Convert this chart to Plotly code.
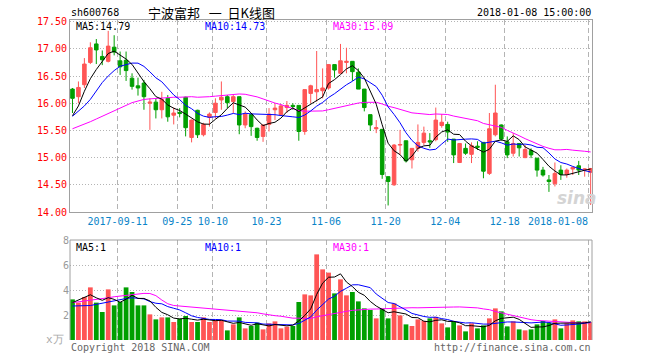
import plotly.graph_objects as go
import pandas as pd

# ---------------- data ----------------
holidays = ["2017-10-02", "2017-10-03", "2017-10-04", "2017-10-05", "2017-10-06", "2018-01-01"]
dates = [d.strftime("%Y-%m-%d") for d in pd.bdate_range("2017-08-30", "2018-01-08")
         if d.strftime("%Y-%m-%d") not in holidays]

open_ = [16.26, 16.12, 16.34, 16.75, 17.09, 16.86, 16.77, 17.03, 16.78, 16.79,
         16.46, 16.32, 16.37, 16.00, 16.02, 15.88, 16.09, 15.78, 15.83, 16.11,
         15.37, 15.87, 15.42, 15.74, 15.83, 16.06, 16.12, 16.03, 16.12, 15.60,
         15.79, 15.54, 15.39, 15.61, 15.88, 15.79, 15.92, 15.96, 15.96, 15.48,
         16.18, 16.21, 16.23, 16.28, 16.71, 16.55, 16.75, 16.77, 16.57, 16.26,
         15.79, 15.53, 15.52, 14.65, 14.50, 15.23, 15.31, 14.96, 15.17, 15.28,
         15.31, 15.33, 15.59, 15.61, 15.34, 14.91, 15.17, 15.06, 15.21, 15.28,
         14.71, 15.42, 15.60, 15.29, 15.08, 15.26, 15.00, 15.13, 14.99, 14.77,
         14.59, 14.52, 14.77, 14.69, 14.79, 14.85, 14.78, 14.73]
high = [16.28, 16.40, 16.83, 17.12, 17.18, 16.97, 17.33, 17.25, 16.95, 16.95,
        16.55, 16.47, 16.43, 16.09, 16.09, 16.21, 16.15, 15.92, 15.91, 16.12,
        15.70, 15.88, 15.64, 15.83, 16.09, 16.40, 16.15, 16.15, 16.12, 15.85,
        15.82, 15.55, 15.61, 15.91, 16.00, 15.98, 16.04, 16.00, 15.96, 16.25,
        16.34, 16.96, 16.64, 16.72, 16.71, 17.09, 17.02, 16.77, 16.64, 16.26,
        15.79, 15.69, 15.52, 14.65, 15.25, 15.51, 15.31, 15.17, 15.61, 15.57,
        15.45, 15.92, 15.80, 15.66, 15.34, 15.26, 15.26, 15.28, 15.30, 15.28,
        15.82, 16.34, 15.61, 15.39, 15.45, 15.26, 15.23, 15.17, 14.99, 14.83,
        14.68, 14.91, 14.86, 14.80, 14.83, 14.94, 14.80, 14.81]
low = [15.82, 16.00, 16.28, 16.72, 16.72, 16.70, 16.75, 16.88, 16.52, 16.41,
       16.25, 16.14, 15.88, 15.51, 15.72, 15.72, 15.66, 15.61, 15.74, 15.39,
       15.28, 15.36, 15.39, 15.57, 15.72, 15.88, 15.91, 15.82, 15.43, 15.54,
       15.40, 15.31, 15.29, 15.48, 15.69, 15.77, 15.82, 15.88, 15.31, 15.42,
       16.00, 16.03, 16.09, 16.25, 16.47, 16.55, 16.55, 16.41, 16.26, 15.85,
       15.49, 15.45, 14.61, 14.12, 14.48, 15.05, 14.91, 14.80, 15.11, 15.23,
       15.18, 15.30, 15.55, 15.29, 14.90, 14.90, 15.05, 14.90, 15.14, 14.62,
       14.68, 15.39, 15.31, 14.99, 15.02, 15.02, 14.99, 14.99, 14.65, 14.65,
       14.37, 14.47, 14.59, 14.63, 14.68, 14.68, 14.65, 14.13]
close = [16.09, 16.29, 16.72, 17.02, 16.98, 16.80, 17.05, 16.94, 16.67, 16.60,
         16.31, 16.28, 16.12, 16.02, 15.88, 16.07, 15.75, 15.82, 15.81, 15.55,
         15.69, 15.42, 15.61, 15.80, 16.00, 16.11, 16.01, 16.12, 15.60, 15.80,
         15.57, 15.37, 15.60, 15.80, 15.91, 15.95, 15.96, 15.94, 15.48, 16.25,
         16.32, 16.25, 16.28, 16.71, 16.61, 16.78, 16.77, 16.58, 16.26, 15.92,
         15.60, 15.55, 14.69, 14.56, 15.23, 15.24, 14.94, 15.17, 15.28, 15.45,
         15.29, 15.69, 15.65, 15.47, 15.05, 15.26, 15.08, 15.22, 15.19, 14.75,
         15.53, 15.82, 15.34, 15.05, 15.26, 15.18, 15.15, 15.05, 14.77, 14.68,
         14.56, 14.71, 14.69, 14.77, 14.82, 14.77, 14.79, 14.80]
volume = [3.25, 2.99, 3.44, 4.21, 2.99, 2.24, 4.05, 2.77, 3.04, 4.21,
          3.84, 2.77, 2.77, 2.05, 1.65, 1.81, 1.81, 1.44, 1.71, 1.92,
          1.44, 1.44, 1.81, 1.44, 1.60, 1.60, 0.77, 1.25, 1.81, 0.93,
          1.12, 1.39, 0.85, 1.33, 1.49, 0.93, 1.07, 1.12, 3.04, 3.65,
          3.57, 6.85, 5.65, 5.39, 3.73, 4.85, 3.57, 3.84, 3.09, 2.53,
          2.40, 1.73, 2.51, 1.73, 2.93, 1.97, 1.25, 1.12, 1.65, 1.52,
          1.73, 1.85, 1.33, 1.01, 1.52, 1.17, 0.69, 1.33, 0.93, 1.17,
          1.73, 2.53, 2.29, 1.09, 1.49, 0.85, 0.77, 0.85, 1.25, 1.52,
          1.39, 1.65, 0.93, 1.33, 1.57, 1.49, 1.49, 1.44]

# leading moving-average values (their windows reach before the first visible day)
ma5_head = [15.77, 15.95, 16.22, 16.45]
ma10_head = [15.76, 15.85, 15.95, 16.07, 16.22, 16.38, 16.50, 16.60, 16.68]
ma30_head = [15.53, 15.57, 15.61, 15.66, 15.71, 15.76, 15.81, 15.87, 15.92, 15.97,
             16.01, 16.04, 16.07, 16.08, 16.09, 16.10, 16.10, 16.11, 16.11, 16.12,
             16.12, 16.11, 16.11, 16.12, 16.13, 16.14, 16.16, 16.17, 16.17]
vma5_head = [2.99, 3.20, 3.45, 3.62]
vma10_head = [2.72, 2.72, 2.74, 2.76, 2.85, 2.95, 3.05, 3.15, 3.25]
vma30_head = [2.99, 3.05, 3.10, 3.15, 3.22, 3.28, 3.38, 3.46, 3.52, 3.57,
              3.64, 3.72, 3.73, 3.72, 3.55, 3.20, 2.90, 2.76, 2.72, 2.69,
              2.66, 2.61, 2.55, 2.50, 2.46, 2.42, 2.38, 2.34, 2.31]

tick_dates = ["2017-09-11", "2017-09-25", "2017-10-10", "2017-10-23", "2017-11-06",
              "2017-11-20", "2017-12-04", "2017-12-18", "2018-01-08"]
tick_labels = ["2017-09-11", "09-25", "10-10", "10-23", "11-06", "11-20", "12-04", "12-18",
               "2018-01-08"]
price_ticks = [14.0, 14.5, 15.0, 15.5, 16.0, 16.5, 17.0, 17.5]
vol_ticks = [2, 4, 6, 8]
legend_price = ["MA5:14.79", "MA10:14.73", "MA30:15.09"]
legend_vol = ["MA5:1", "MA10:1", "MA30:1"]


def moving_avg(vals, n, head):
    out = list(head)
    for i in range(n - 1, len(vals)):
        out.append(sum(vals[i - n + 1:i + 1]) / n)
    return out


ma5 = moving_avg(close, 5, ma5_head)
ma10 = moving_avg(close, 10, ma10_head)
ma30 = moving_avg(close, 30, ma30_head)
vma5 = moving_avg(volume, 5, vma5_head)
vma10 = moving_avg(volume, 10, vma10_head)
vma30 = moving_avg(volume, 30, vma30_head)

# ---------------- style ----------------
RED = "#FF5555"
GREEN = "#009F00"
BORDER = "#A0A0A0"
GRID = "#B4B4B4"
MONO = "DejaVu Sans Mono"
idx = list(range(len(dates)))
bar_colors = [RED if c >= o else GREEN for o, c in zip(open_, close)]

fig = go.Figure()
fig.add_trace(go.Candlestick(
    x=idx, open=open_, high=high, low=low, close=close,
    increasing=dict(line=dict(color=RED, width=1), fillcolor=RED),
    decreasing=dict(line=dict(color=GREEN, width=1), fillcolor=GREEN),
    whiskerwidth=0, xaxis="x", yaxis="y", showlegend=False))
for series, col in [(ma30, "#FF00FF"), (ma10, "#0000FF"), (ma5, "#000000")]:
    fig.add_trace(go.Scatter(x=idx, y=series, mode="lines", line=dict(color=col, width=1),
                             xaxis="x", yaxis="y", showlegend=False))
fig.add_trace(go.Bar(x=idx, y=volume, marker=dict(color=bar_colors, line=dict(width=0)),
                     width=0.8, xaxis="x2", yaxis="y2", showlegend=False))
for series, col in [(vma30, "#FF00FF"), (vma10, "#0000FF"), (vma5, "#000000")]:
    fig.add_trace(go.Scatter(x=idx, y=series, mode="lines", line=dict(color=col, width=1),
                             xaxis="x2", yaxis="y2", showlegend=False))

tickvals = [dates.index(d) - 0.42 for d in tick_dates]
ticktext = tick_labels[:-1] + [tick_labels[-1] + "\u00a0" * 10]
xrange_ = [-0.416, len(dates) - 1 + 0.23]

fig.update_layout(
    width=660, height=360,
    margin=dict(l=70, r=63, t=20, b=20),
    paper_bgcolor="white", plot_bgcolor="white",
    hovermode=False, boxgap=0.15,
    font=dict(family=MONO, size=10, color="#000"),
    xaxis=dict(domain=[0, 1], anchor="y", range=xrange_, tickmode="array",
               tickvals=tickvals, ticktext=ticktext, ticks="",
               tickfont=dict(family=MONO, size=10, color="#0A84C8"),
               showgrid=True, gridcolor=GRID, griddash="5px,3px", gridwidth=1,
               showline=True, mirror=True, linecolor=BORDER, linewidth=1,
               zeroline=False, rangeslider=dict(visible=False), fixedrange=True),
    yaxis=dict(domain=[0.4, 1], anchor="x", range=[14.0, 17.53], tickmode="array",
               tickvals=price_ticks, ticktext=["%.2f" % v for v in price_ticks], ticks="",
               tickfont=dict(family=MONO, size=10, color="#FF0000"),
               showgrid=True, gridcolor=GRID, griddash="1px,2px", gridwidth=1,
               showline=True, mirror=True, linecolor=BORDER, linewidth=1,
               zeroline=False, fixedrange=True),
    xaxis2=dict(domain=[0, 1], anchor="y2", matches="x", range=xrange_, tickmode="array",
                tickvals=tickvals, showticklabels=False, ticks="",
                showgrid=True, gridcolor=GRID, griddash="5px,3px", gridwidth=1,
                showline=False, zeroline=False, fixedrange=True),
    yaxis2=dict(domain=[0, 0.3125], anchor="x2", range=[0, 8], tickmode="array",
                tickvals=vol_ticks, ticktext=[str(v) for v in vol_ticks], ticks="",
                tickfont=dict(family=MONO, size=10, color="#999999"),
                showgrid=True, gridcolor=GRID, griddash="1px,2px", gridwidth=1,
                showline=False, zeroline=False, fixedrange=True),
)

# volume panel frame (top, left, right)
for x0, y0, x1, y1 in [(0, 1, 1, 1), (0, 0, 0, 1), (1, 0, 1, 1)]:
    fig.add_shape(type="line", xref="x2 domain", yref="y2 domain", x0=x0, y0=y0, x1=x1, y1=y1,
                  line=dict(color=BORDER, width=1), layer="above")


def px_x(px):
    return (px - 70) / 527.0


def px_y(py):
    return (340 - py) / 320.0


def note(text, px, py, anchor="left", color="#000", size=10, family=MONO, **kw):
    fig.add_annotation(text=text, xref="paper", yref="paper", x=px_x(px), y=px_y(py),
                       xanchor=anchor, yanchor="middle", showarrow=False, borderpad=0,
                       font=dict(family=family, size=size, color=color), **kw)


note("sh600768", 70, 13)
note("宁波富邦\u00a0\u00a0\u00a0一\u00a0\u00a0日K线图", 213, 12, anchor="center", size=13,
     family="Noto Sans CJK SC")
note("2018-01-08 15:00:00", 597, 13, anchor="right")
note(legend_price[0], 75, 27)
note(legend_price[1], 205, 27, color="#0000FF")
note(legend_price[2], 335, 27, color="#FF00FF")
note(legend_vol[0], 75, 247)
note(legend_vol[1], 205, 247, color="#0000FF")
note(legend_vol[2], 335, 247, color="#FF00FF")
note("x万", 65, 339, anchor="right", color="#AAAAAA", size=11)
note("Copyright 2018 SINA.COM", 70, 347, color="#666666")
note("http://finance.sina.com.cn", 597, 347, anchor="right", color="#666666")
note("<b><i>sina</i></b>", 582, 198, anchor="center", color="#D4D4D4", size=17,
     family="DejaVu Sans")

fig.write_html("out.html", config={"displayModeBar": False},
               post_script="document.body.style.margin='0px';document.body.style.padding='0px';")
